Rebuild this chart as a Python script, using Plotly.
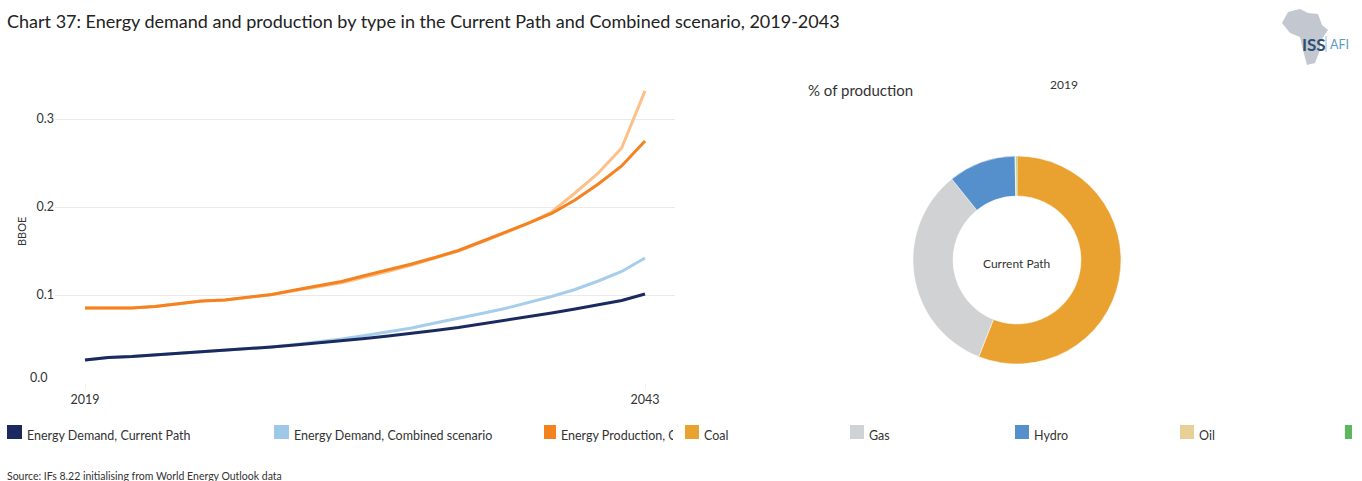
import plotly.graph_objects as go

W, H = 1362, 481
FONT = "Lato"
TXT = "#333333"

years = list(range(2019, 2044))
demand_current = [.0261,.029,.0301,.0318,.0335,.0358,.0375,.0392,.0409,.0432,.0455,.0483,.0506,.0534,.0563,.0597,.0631,.067,.071,.075,.0795,.0841,.0886,.0938,.1011]
demand_combined = [.0261,.029,.0301,.0318,.0335,.0358,.0375,.0392,.0409,.0438,.0466,.05,.054,.058,.0625,.0682,.0733,.079,.0847,.0915,.0983,.1063,.1159,.1267,.142]
production_current = [.0852,.0852,.0852,.0869,.0903,.0932,.0943,.0972,.1006,.1057,.1102,.1153,.1222,.1284,.1352,.1426,.1506,.1608,.171,.1818,.1926,.208,.2261,.2466,.275]
production_combined = [.0852,.0852,.0852,.0869,.0903,.0932,.0943,.0972,.1003,.105,.1092,.1138,.1205,.1268,.134,.1418,.15,.16,.1705,.1813,.1943,.2159,.2386,.267,.332]

pie_labels = ["Coal", "Gas", "Hydro", "Oil", "Other"]
pie_values = [56.0, 33.2, 10.5, 0.15, 0.15]
pie_colors = ["#E9A22F", "#D1D2D4", "#5590CC", "#E8CF97", "#5CB85C"]

legend_labels = ["Energy Demand, Current Path", "Energy Demand, Combined scenario", "Energy Production, C",
                 "Coal", "Gas", "Hydro", "Oil", ""]
legend_colors = ["#1B2A5E", "#9DC8E8", "#F58220", "#E9A22F", "#D1D2D4", "#5590CC", "#E8CF97", "#5CB85C"]
legend_left = [7, 274, 544, 685, 850, 1015, 1180, 1345]
legend_right = [22, 289, 556, 699, 864, 1029, 1194, 1352]

africa_x = [1282,1288,1300,1308,1318,1322,1328,1320,1320,1315,1307,1303,1300,1290]
africa_y = [23,12,9,13,14,25,30,42,50,63,65,50,37,33]

def px(x): return x / W
def py(y): return 1 - y / H

fig = go.Figure()
series = [(demand_combined, "#A6CEEA", "Energy Demand, Combined scenario"),
          (demand_current, "#1B2A5E", "Energy Demand, Current Path"),
          (production_combined, "#FDC088", "Energy Production, Combined scenario"),
          (production_current, "#F58220", "Energy Production, Current Path")]
for vals, col, name in series:
    fig.add_trace(go.Scatter(x=years, y=vals, mode="lines", name=name,
                             line=dict(color=col, width=3), showlegend=False))

fig.add_trace(go.Pie(labels=pie_labels, values=pie_values, hole=0.615, sort=False, direction="clockwise",
                     rotation=0, marker=dict(colors=pie_colors, line=dict(color="white", width=0.5)),
                     textinfo="none", showlegend=False,
                     domain=dict(x=[px(913), px(1121)], y=[py(364), py(156)])))

def note(x, y, text, size=12, anchor="left", color=TXT, angle=0):
    fig.add_annotation(xref="paper", yref="paper", x=px(x), y=py(y), text=text, showarrow=False,
                       xanchor=anchor, yanchor="middle", textangle=angle, borderpad=0,
                       font=dict(family=FONT, size=size, color=color))

shapes = []
for l, r, c in zip(legend_left, legend_right, legend_colors):
    shapes.append(dict(type="rect", xref="paper", yref="paper", x0=px(l), x1=px(r), y0=py(439), y1=py(425),
                       fillcolor=c, line=dict(width=0)))
path = "M " + " L ".join(f"{px(x):.5f},{py(y):.5f}" for x, y in zip(africa_x, africa_y)) + " Z"
shapes.append(dict(type="path", xref="paper", yref="paper", path=path, fillcolor="#C3C8D0", line=dict(width=0)))
shapes.append(dict(type="line", xref="paper", yref="paper", x0=px(1326), x1=px(1326), y0=py(36), y1=py(52),
                   line=dict(color="#8FB8D8", width=1)))

note(6, 21, "Chart 37: Energy demand and production by type in the Current Path and Combined scenario, 2019-2043", 18, color="#222222")
note(807, 90, "% of production", 15)
note(1064, 84, "2019", 12, "center")
note(1016, 263, "Current Path", 12, "center")
note(21, 232, "BBOE", 11, "center", angle=-90)
note(48, 377, "0.0", 12.5, "right")
note(6, 476, "Source: IFs 8.22 initialising from World Energy Outlook data", 10.5)
for l, r, t in zip(legend_left, legend_right, legend_labels):
    if t:
        note(r + 4, 435, t, 12.5)
fig.add_annotation(xref="paper", yref="paper", x=px(673), y=py(435), text=" ", showarrow=False, xanchor="left",
                   yanchor="middle", width=11, height=18, bgcolor="white", borderpad=0, borderwidth=0,
                   font=dict(size=12))
note(1301, 44, "<b>ISS</b>", 17, color="#2F4F73")
note(1329, 44, "AFI", 12.5, color="#5B9BC8")

fig.update_layout(
    width=W, height=H, margin=dict(l=0, r=0, t=0, b=0), paper_bgcolor="white", plot_bgcolor="white",
    shapes=shapes,
    xaxis=dict(domain=[px(55), px(675)], range=[2019 - 30 / 23.333, 2043 + 30 / 23.333],
               tickvals=[2019, 2043], ticktext=["2019", "2043"], showgrid=False, zeroline=False,
               ticks="outside", ticklen=5, tickcolor="#F0F0F0",
               tickfont=dict(family=FONT, size=12.5, color=TXT)),
    yaxis=dict(domain=[py(383), py(80)], range=[0, 303 / 880], tickvals=[0, .1, .2, .3],
               ticktext=["", "0.1", "0.2", "0.3"], showgrid=True, gridcolor="#EAEAEA", gridwidth=1,
               zeroline=False, tickfont=dict(family=FONT, size=12.5, color=TXT)),
)
fig.write_html("out.html", config={"displayModeBar": False},
               post_script="document.body.style.margin='0';document.body.style.overflow='hidden';")
